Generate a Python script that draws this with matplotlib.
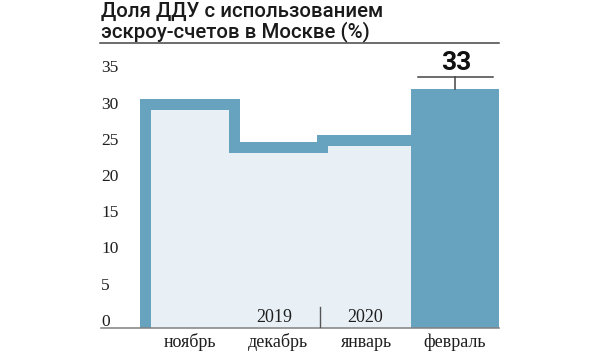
import numpy as np
import matplotlib
matplotlib.use("Agg")
import matplotlib.pyplot as plt
from matplotlib.transforms import offset_copy
from matplotlib.lines import Line2D

# ---- data ----
months = ["ноябрь", "декабрь", "январь", "февраль"]
values = [31, 25, 26, 33]
years = ["2019", "2020"]
yticks = [0, 5, 10, 15, 20, 25, 30, 35]
title_lines = ["Доля ДДУ с использованием", "эскроу-счетов в Москве (%)"]
highlight_label = "33"

BLUE = "#67a2bf"
LIGHT = "#e8f0f6"
TXT = "#1e1e1e"

W, H, DPI = 600, 351, 100
fig = plt.figure(figsize=(W / DPI, H / DPI), dpi=DPI)

# axes placement (pixels): x data -1..3.5 -> 101..499.25 ; y 0..36 -> 328..67.4
ax_l, ax_r = 101, 499.25
ax_b = H - 328
ax_t = H - 67.4
ax = fig.add_axes([ax_l / W, ax_b / H, (ax_r - ax_l) / W, (ax_t - ax_b) / H])
ax.set_xlim(-1.0, 3.5)
ax.set_ylim(0, 36)
ax.axis("off")

x = np.arange(len(values))
prev = np.array(values[:-1])

# light fill for previous months
ax.bar(x[:-1], prev, width=1.0, color=LIGHT, linewidth=0, zorder=1)
# highlighted last bar
ax.bar(x[-1], values[-1], width=1.0, color=BLUE, linewidth=0, zorder=2)

# step outline
edges = np.arange(len(prev) + 1) - 0.5
px = np.concatenate([[edges[0]], np.repeat(edges, 2)[1:-1]])
py = np.concatenate([[0], np.repeat(prev, 2)])
lw_pt = 11 * 72 / DPI
ax.plot(px, py, color=BLUE, lw=lw_pt, solid_joinstyle="miter",
        solid_capstyle="butt", zorder=3)

# baseline axis
ax.plot([-1.0, 3.5], [0, 0], color="#808080", lw=1.1, zorder=4, clip_on=False)

# year separator
ax.plot([1.47, 1.47], [0, 2.9], color="#555555", lw=1.0, zorder=4)

# y tick labels
ytrans = offset_copy(ax.get_yaxis_transform(), fig=fig, x=0, y=2.2, units="dots")
for v in yticks:
    ax.text(0.0, v, str(v), transform=ytrans, ha="left", va="baseline",
            fontsize=12.5, family="Liberation Serif", color=TXT)

# month labels
mtrans = offset_copy(ax.get_xaxis_transform(), fig=fig, x=0, y=-18.7, units="dots")
for i, m in enumerate(months):
    ax.text(x[i], 0, m, transform=mtrans, ha="center", va="baseline",
            fontsize=13, family="Liberation Serif", color=TXT)

# year labels
ytr2 = offset_copy(ax.get_xaxis_transform(), fig=fig, x=0, y=5.7, units="dots")
ax.text(0.955, 0, years[0], transform=ytr2, ha="center", va="baseline",
        fontsize=13, family="Liberation Serif", color=TXT)
ax.text(1.99, 0, years[1], transform=ytr2, ha="center", va="baseline",
        fontsize=13, family="Liberation Serif", color=TXT)

# highlight bracket and label
top = values[-1]
bracket_y = top + 11.7 / 7.24
ax.plot([x[-1] - 0.415, x[-1] + 0.43], [bracket_y, bracket_y], color="#444444",
        lw=1.1, clip_on=False, zorder=5)
ax.plot([x[-1], x[-1]], [top, bracket_y], color="#444444", lw=1.1,
        clip_on=False, zorder=5)
ax.text(x[-1] + 0.015, top + 19 / 7.24, highlight_label, ha="center", va="baseline",
        fontsize=19, fontweight="bold", family="Roboto", color="#111111",
        clip_on=False)

# title
fig.text(101 / W, (H - 17) / H, title_lines[0], ha="left", va="baseline",
         fontsize=14.7, fontweight="medium", family="Roboto", color="#1a1a1a")
fig.text(101 / W, (H - 37.5) / H, title_lines[1], ha="left", va="baseline",
         fontsize=14.7, fontweight="medium", family="Roboto", color="#1a1a1a")
fig.add_artist(Line2D([100 / W, 499 / W], [(H - 42.5) / H] * 2,
                      transform=fig.transFigure, color="#444444", lw=1.1))

fig.savefig("out.png", dpi=DPI)
